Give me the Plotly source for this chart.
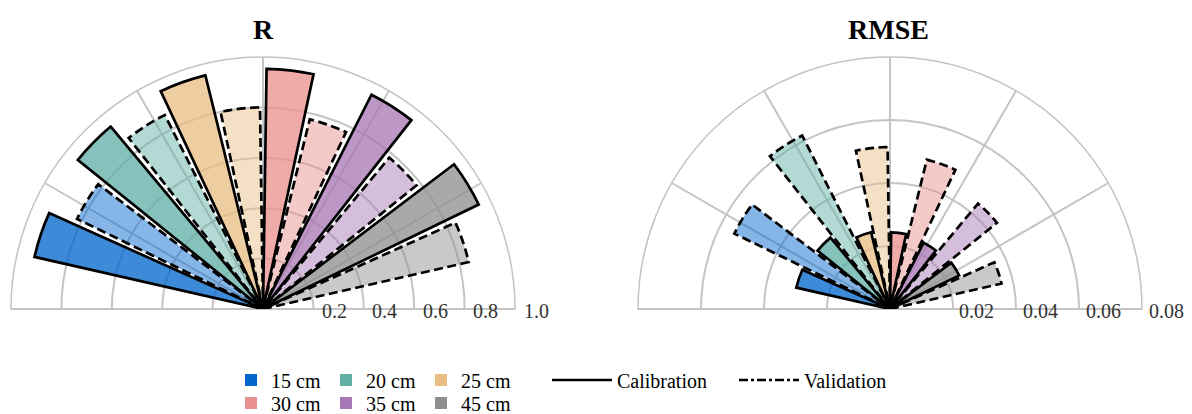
import plotly.graph_objects as go

# Soil depths and their colours
depths = ["15 cm", "20 cm", "25 cm", "30 cm", "35 cm", "45 cm"]
colors = ["#0066CC", "#5FAFA5", "#E8BE84", "#E8918D", "#A878B6", "#8E8E8E"]

# Correlation coefficient (R)
r_cal = [0.930, 0.943, 0.955, 0.953, 0.953, 0.951]
r_val = [0.820, 0.863, 0.800, 0.775, 0.782, 0.837]

# Root mean square error (RMSE)
rmse_cal = [0.0305, 0.0295, 0.0251, 0.0243, 0.0236, 0.0244]
rmse_val = [0.0549, 0.0617, 0.0514, 0.0488, 0.0436, 0.0363]

r_ticks = [0.2, 0.4, 0.6, 0.8, 1.0]
rmse_ticks = [0.02, 0.04, 0.06, 0.08]

FONT = "Liberation Serif"
STEP = 13.0      # angular spacing between bars (deg)
WIDTH = 11.3     # angular width of each bar (deg)
LW = 2.7

W, H = 1192, 414
BASE_PX, TOP_PX = 309, 57          # baseline and top of the half discs (px from top)
DOM_L = [11 / W, 515 / W]
DOM_R = [638 / W, 1142 / W]
grid = "#C4C4C4"


def slot_theta(k):
    return 90 + (5.5 - k) * STEP


def hex_rgba(h, a):
    h = h.lstrip("#")
    return "rgba(%d,%d,%d,%.2f)" % (int(h[0:2], 16), int(h[2:4], 16), int(h[4:6], 16), a)


fig = go.Figure()


def add_chart(subplot, cal, val):
    for i, (d, c) in enumerate(zip(depths, colors)):
        tc = slot_theta(2 * i)
        tv = slot_theta(2 * i + 1)
        # validation bar (fill) with a dashed outline
        fig.add_trace(go.Barpolar(
            r=[val[i]], theta=[tv], width=[WIDTH], subplot=subplot,
            marker=dict(color=hex_rgba(c, 0.48), line=dict(width=0)),
            showlegend=False, hoverinfo="skip"))
        n = 12
        arc_t = [tv - WIDTH / 2 + WIDTH * j / n for j in range(n + 1)]
        fig.add_trace(go.Scatterpolar(
            r=[0] + [val[i]] * (n + 1) + [0],
            theta=[arc_t[0]] + arc_t + [arc_t[-1]],
            mode="lines", subplot=subplot,
            line=dict(color="black", width=LW, dash="9px,4.5px"),
            showlegend=False, hoverinfo="skip"))
        # calibration bar with a solid outline
        fig.add_trace(go.Barpolar(
            r=[cal[i]], theta=[tc], width=[WIDTH], subplot=subplot,
            marker=dict(color=hex_rgba(c, 0.76), line=dict(color="black", width=LW)),
            showlegend=False, hoverinfo="skip"))


add_chart("polar", r_cal, r_val)
add_chart("polar2", rmse_cal, rmse_val)

# Legend entries: depth colours (two rows) and line styles
for i, (d, c) in enumerate(zip(depths, colors)):
    fig.add_trace(go.Barpolar(
        r=[None], theta=[None], subplot="polar", name=d,
        marker=dict(color=c, line=dict(width=0)),
        legend="legend" if i < 3 else "legend2"))
fig.add_trace(go.Scatterpolar(
    r=[None], theta=[None], subplot="polar", name="Calibration", mode="lines",
    line=dict(color="black", width=LW), legend="legend3"))
fig.add_trace(go.Scatterpolar(
    r=[None], theta=[None], subplot="polar", name="Validation", mode="lines",
    line=dict(color="black", width=LW, dash="dashdot"), legend="legend3"))


def polar_axes(xdom, rng, ticks):
    return dict(
        domain=dict(x=xdom, y=[(H - BASE_PX) / H, (H - TOP_PX) / H]),
        sector=[0, 180],
        bgcolor="white",
        radialaxis=dict(range=rng, tickvals=ticks, angle=0, showticklabels=False,
                        showline=False, ticks="", gridcolor=grid, gridwidth=1.5,
                        layer="below traces"),
        angularaxis=dict(rotation=0, direction="counterclockwise", dtick=30,
                         showticklabels=False, ticks="", linecolor=grid, linewidth=1.5,
                         gridcolor=grid, gridwidth=1.5, layer="below traces"),
    )


def radial_labels(dom, rmax, ticks, fmt, shift):
    # tick labels sit just right of each ring, on the baseline
    cx = (dom[0] + dom[1]) / 2
    rad = (dom[1] - dom[0]) / 2
    out = []
    for v in ticks:
        out.append(dict(text=format(v, fmt), x=cx + v / rmax * rad + shift / W,
                        y=1 - 311 / H, xref="paper", yref="paper",
                        xanchor="center", yanchor="middle", showarrow=False,
                        font=dict(family=FONT, size=20, color="#333")))
    return out


legend_common = dict(orientation="h", xanchor="left", yanchor="middle",
                     font=dict(family=FONT, size=20, color="black"),
                     bgcolor="rgba(0,0,0,0)", itemclick=False, itemdoubleclick=False,
                     tracegroupgap=0)

annotations = [
    dict(text="<b>R</b>", x=263 / W, y=1 - 30 / H, xref="paper", yref="paper",
         xanchor="center", yanchor="middle", showarrow=False,
         font=dict(family=FONT, size=28, color="black")),
    dict(text="<b>RMSE</b>", x=888 / W, y=1 - 30 / H, xref="paper", yref="paper",
         xanchor="center", yanchor="middle", showarrow=False,
         font=dict(family=FONT, size=28, color="black")),
]
annotations += radial_labels(DOM_L, 1.0, r_ticks, ".1f", 21)
annotations += radial_labels(DOM_R, 0.08, rmse_ticks, ".2f", 24)

fig.update_layout(
    width=W, height=H,
    margin=dict(l=0, r=0, t=0, b=0, autoexpand=False),
    paper_bgcolor="white",
    font=dict(family=FONT, color="black"),
    polar=polar_axes(DOM_L, [0, 1.0], r_ticks),
    polar2=polar_axes(DOM_R, [0, 0.08], rmse_ticks),
    legend=dict(x=231 / W, y=1 - 380 / H, entrywidth=50, **legend_common),
    legend2=dict(x=231 / W, y=1 - 403 / H, entrywidth=50, **legend_common),
    legend3=dict(x=547 / W, y=1 - 380 / H, itemwidth=60, entrywidth=112, **legend_common),
    annotations=annotations,
)

fig.write_html("out.html")
